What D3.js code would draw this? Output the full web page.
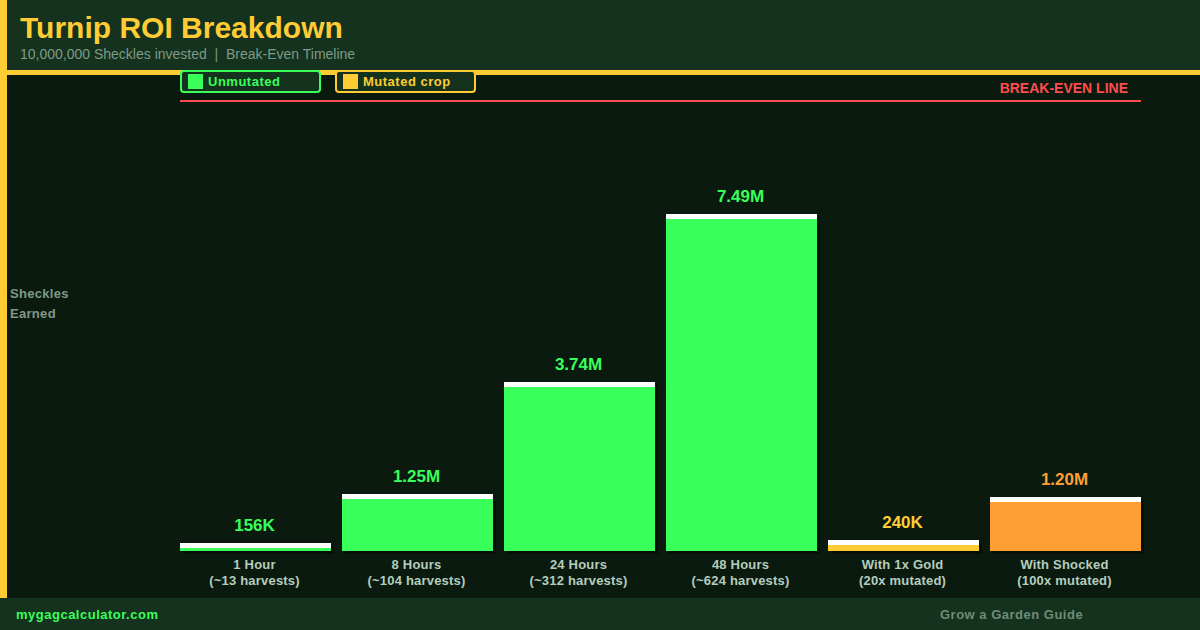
<!DOCTYPE html>
<html>
<head>
<meta charset="utf-8">
<script src="https://d3js.org/d3.v7.min.js"></script>
<style>
  html, body { margin: 0; padding: 0; background: #0a1a0f; }
  svg { display: block; font-family: "Liberation Sans", Arial, sans-serif; }
</style>
</head>
<body>
<div id="chart"></div>
<script>
// Data
const categories = ["1 Hour", "8 Hours", "24 Hours", "48 Hours", "With 1x Gold", "With Shocked"];
const subLabels = ["(~13 harvests)", "(~104 harvests)", "(~312 harvests)", "(~624 harvests)", "(20x mutated)", "(100x mutated)"];
const earned = [156000, 1248000, 3744000, 7488000, 240000, 1200000];
const valueLabels = ["156K", "1.25M", "3.74M", "7.49M", "240K", "1.20M"];
const barColors = ["#39ff5a", "#39ff5a", "#39ff5a", "#39ff5a", "#ffcc33", "#ff9f33"];
const labelColors = ["#39ff5a", "#39ff5a", "#39ff5a", "#39ff5a", "#ffcc33", "#ff9f33"];
const legendNames = ["Unmutated", "Mutated crop"];
const legendColors = ["#39ff5a", "#ffcc33"];
const breakEven = 10000000;

// Colours
const bg = "#0a1a0f", panel = "#14321e", gold = "#ffcc33", green = "#39ff5a", red = "#ff4d4d";

const W = 1200, H = 630;
const svg = d3.select("#chart").append("svg").attr("width", W).attr("height", H);

// Scales
const x = d3.scaleBand().domain(categories).range([180, 1141]).paddingInner(11 / 162).paddingOuter(0);
const y = d3.scaleLinear().domain([0, breakEven]).range([551, 101]);
const barTop = v => 551 - Math.ceil(551 - y(v));

// Background, header, footer
svg.append("rect").attr("width", W).attr("height", H).attr("fill", bg);
svg.append("rect").attr("width", W).attr("height", 70).attr("fill", panel);
svg.append("rect").attr("y", 70).attr("width", W).attr("height", 5).attr("fill", gold);
svg.append("rect").attr("y", 598).attr("width", W).attr("height", 32).attr("fill", panel);
svg.append("rect").attr("width", 7).attr("height", 598).attr("fill", gold);

svg.append("text").attr("x", 20).attr("y", 38).attr("fill", gold)
  .attr("font-size", 30).attr("font-weight", "bold").text("Turnip ROI Breakdown");
svg.append("text").attr("x", 20).attr("y", 59).attr("fill", "#7f9a87")
  .attr("font-size", 14).attr("xml:space", "preserve").style("white-space", "pre")
  .text("10,000,000 Sheckles invested  |  Break-Even Timeline");

// Legend
const legend = svg.selectAll(".legend").data(legendNames).enter().append("g")
  .attr("class", "legend")
  .attr("transform", (d, i) => `translate(${i === 0 ? 181 : 336},71)`);
legend.append("rect").attr("width", 139).attr("height", 21).attr("rx", 3)
  .attr("fill", panel).attr("stroke", (d, i) => legendColors[i]).attr("stroke-width", 2);
legend.append("rect").attr("x", 7).attr("y", 3).attr("width", 15).attr("height", 15)
  .attr("fill", (d, i) => legendColors[i]);
legend.append("text").attr("x", 27).attr("y", 15).attr("font-size", 13).attr("font-weight", "bold")
  .attr("letter-spacing", 0.5).attr("fill", (d, i) => legendColors[i]).text(d => d);

// Break-even line
svg.append("line").attr("x1", 180).attr("x2", 1141).attr("y1", y(breakEven) - 0.0).attr("y2", y(breakEven))
  .attr("stroke", red).attr("stroke-width", 2);
svg.append("text").attr("x", 1128).attr("y", 93).attr("text-anchor", "end").attr("fill", red)
  .attr("font-size", 14).attr("font-weight", "bold").text("BREAK-EVEN LINE");

// Y title
svg.selectAll(".ytitle").data(["Sheckles", "Earned"]).enter().append("text")
  .attr("class", "ytitle").attr("x", 10).attr("y", (d, i) => 298 + i * 20)
  .attr("fill", "#7f9a87").attr("font-size", 13).attr("font-weight", "bold").attr("letter-spacing", 0.3).text(d => d);

// Bars: shadow, fill, white cap
const bars = svg.selectAll(".bar").data(categories).enter().append("g").attr("class", "bar");
bars.append("rect").attr("x", d => x(d) + 3).attr("y", (d, i) => barTop(earned[i]) + 3)
  .attr("width", x.bandwidth()).attr("height", (d, i) => 551 - barTop(earned[i]))
  .attr("fill", "#050f08");
bars.append("rect").attr("x", d => x(d)).attr("y", (d, i) => barTop(earned[i]))
  .attr("width", x.bandwidth()).attr("height", (d, i) => 551 - barTop(earned[i]))
  .attr("fill", (d, i) => barColors[i]);
bars.append("rect").attr("x", d => x(d)).attr("y", (d, i) => barTop(earned[i]))
  .attr("width", x.bandwidth()).attr("height", 5).attr("fill", "#ffffff");
bars.append("text").attr("x", d => x(d) + x.bandwidth() / 2 - 1).attr("y", (d, i) => barTop(earned[i]) - 12)
  .attr("text-anchor", "middle").attr("font-size", 17).attr("font-weight", "bold")
  .attr("fill", (d, i) => labelColors[i]).text((d, i) => valueLabels[i]);

// X axis with two line labels
const axis = svg.append("g").attr("transform", "translate(0,551)")
  .call(d3.axisBottom(x).tickSize(0).tickPadding(0));
axis.select(".domain").remove();
axis.selectAll(".tick text").each(function(d, i) {
  const t = d3.select(this).text(null).attr("y", null).attr("dy", null)
    .attr("font-size", 13).attr("font-weight", "bold").attr("fill", "#b5cdbb")
    .attr("font-family", "'Liberation Sans', Arial, sans-serif").attr("letter-spacing", 0.2);
  t.append("tspan").attr("x", -1).attr("y", 18).text(d);
  t.append("tspan").attr("x", -1).attr("y", 34).text(subLabels[i]);
});

// Footer
svg.append("text").attr("x", 16).attr("y", 619).attr("fill", green)
  .attr("font-size", 13).attr("font-weight", "bold").attr("letter-spacing", 0.5).text("mygagcalculator.com");
svg.append("text").attr("x", 940).attr("y", 619).attr("fill", "#6f8c78")
  .attr("font-size", 13).attr("font-weight", "bold").attr("letter-spacing", 0.5).text("Grow a Garden Guide");
</script>
</body>
</html>
